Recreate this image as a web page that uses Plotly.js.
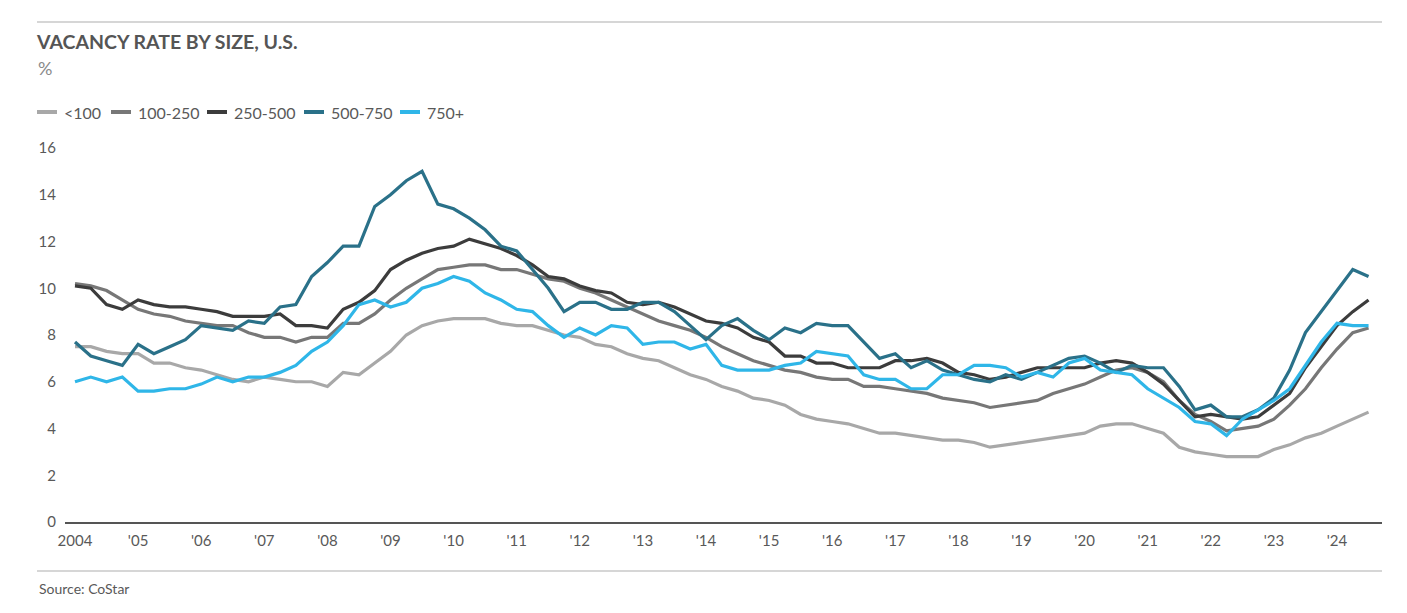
<!DOCTYPE html>
<html>
<head>
<meta charset="utf-8">
<script src="https://cdn.plot.ly/plotly-3.0.1.min.js"></script>
<style>
  html, body { margin: 0; padding: 0; background: #ffffff; }
  #chart { width: 1407px; height: 613px; }
</style>
</head>
<body>
<div id="chart"></div>
<script>
// Quarterly periods 2004 Q1 .. 2024 Q3
const startYear = 2004;
const quartersCount = 83;

const seriesNames = ["<100", "100-250", "250-500", "500-750", "750+"];

const under100 = [7.5,7.5,7.3,7.2, 7.2,6.8,6.8,6.6, 6.5,6.3,6.1,6.0, 6.2,6.1,6.0,6.0, 5.8,6.4,6.3,6.8,
  7.3,8.0,8.4,8.6, 8.7,8.7,8.7,8.5, 8.4,8.4,8.2,8.0, 7.9,7.6,7.5,7.2, 7.0,6.9,6.6,6.3,
  6.1,5.8,5.6,5.3, 5.2,5.0,4.6,4.4, 4.3,4.2,4.0,3.8, 3.8,3.7,3.6,3.5, 3.5,3.4,3.2,3.3,
  3.4,3.5,3.6,3.7, 3.8,4.1,4.2,4.2, 4.0,3.8,3.2,3.0, 2.9,2.8,2.8,2.8, 3.1,3.3,3.6,3.8,
  4.1,4.4,4.7];

const s100to250 = [10.2,10.1,9.9,9.5, 9.1,8.9,8.8,8.6, 8.5,8.4,8.4,8.1, 7.9,7.9,7.7,7.9, 7.9,8.5,8.5,8.9,
  9.5,10.0,10.4,10.8, 10.9,11.0,11.0,10.8, 10.8,10.6,10.4,10.3, 10.0,9.8,9.5,9.2, 8.9,8.6,8.4,8.2,
  7.9,7.5,7.2,6.9, 6.7,6.5,6.4,6.2, 6.1,6.1,5.8,5.8, 5.7,5.6,5.5,5.3, 5.2,5.1,4.9,5.0,
  5.1,5.2,5.5,5.7, 5.9,6.2,6.5,6.6, 6.4,6.0,5.2,4.6, 4.3,3.9,4.0,4.1, 4.4,5.0,5.7,6.6,
  7.4,8.1,8.3];

const s250to500 = [10.1,10.0,9.3,9.1, 9.5,9.3,9.2,9.2, 9.1,9.0,8.8,8.8, 8.8,8.9,8.4,8.4, 8.3,9.1,9.4,9.9,
  10.8,11.2,11.5,11.7, 11.8,12.1,11.9,11.7, 11.4,11.0,10.5,10.4, 10.1,9.9,9.8,9.4, 9.3,9.4,9.2,8.9,
  8.6,8.5,8.3,7.9, 7.7,7.1,7.1,6.8, 6.8,6.6,6.6,6.6, 6.9,6.9,7.0,6.8, 6.4,6.3,6.1,6.2,
  6.4,6.6,6.6,6.6, 6.6,6.8,6.9,6.8, 6.4,5.9,5.2,4.5, 4.6,4.5,4.4,4.5, 5.0,5.5,6.6,7.5,
  8.4,9.0,9.5];

const s500to750 = [7.7,7.1,6.9,6.7, 7.6,7.2,7.5,7.8, 8.4,8.3,8.2,8.6, 8.5,9.2,9.3,10.5, 11.1,11.8,11.8,13.5,
  14.0,14.6,15.0,13.6, 13.4,13.0,12.5,11.8, 11.6,10.8,10.0,9.0, 9.4,9.4,9.1,9.1, 9.4,9.4,9.0,8.4,
  7.8,8.4,8.7,8.2, 7.8,8.3,8.1,8.5, 8.4,8.4,7.7,7.0, 7.2,6.6,6.9,6.5, 6.3,6.1,6.0,6.3,
  6.1,6.4,6.7,7.0, 7.1,6.8,6.4,6.7, 6.6,6.6,5.8,4.8, 5.0,4.5,4.5,4.8, 5.3,6.5,8.1,9.0,
  9.9,10.8,10.5];

const s750plus = [6.0,6.2,6.0,6.2, 5.6,5.6,5.7,5.7, 5.9,6.2,6.0,6.2, 6.2,6.4,6.7,7.3, 7.7,8.4,9.3,9.5,
  9.2,9.4,10.0,10.2, 10.5,10.3,9.8,9.5, 9.1,9.0,8.4,7.9, 8.3,8.0,8.4,8.3, 7.6,7.7,7.7,7.4,
  7.6,6.7,6.5,6.5, 6.5,6.7,6.8,7.3, 7.2,7.1,6.3,6.1, 6.1,5.7,5.7,6.3, 6.3,6.7,6.7,6.6,
  6.2,6.4,6.2,6.8, 7.0,6.5,6.4,6.3, 5.7,5.3,4.9,4.3, 4.2,3.7,4.4,4.8, 5.2,5.7,6.7,7.7,
  8.5,8.4,8.4];

const tickYears = [2004,2005,2006,2007,2008,2009,2010,2011,2012,2013,2014,2015,2016,2017,2018,2019,2020,2021,2022,2023,2024];
const tickLabels = ["2004","'05","'06","'07","'08","'09","'10","'11","'12","'13","'14","'15","'16","'17","'18","'19","'20","'21","'22","'23","'24"];
const yTicks = [0,2,4,6,8,10,12,14,16];

const quarters = [];
for (let i = 0; i < quartersCount; i++) quarters.push(startYear + i / 4);

const colors = ["#a8a8a8", "#777777", "#3c3c3c", "#2a7189", "#2fb6e8"];
const allSeries = [under100, s100to250, s250to500, s500to750, s750plus];

const traces = allSeries.map((vals, k) => ({
  type: "scatter",
  mode: "lines",
  name: seriesNames[k],
  x: quarters,
  y: vals,
  line: { color: colors[k], width: 3.2 },
  hoverinfo: "skip"
}));

const FONT = "Lato, 'Open Sans', sans-serif";
const TXT = "#595959";

// plot area geometry in pixels (for placing header/footer items in paper coords)
const PL = 65, PR = 1382, PT = 148, PB = 522;
const px = (x) => (x - PL) / (PR - PL);
const py = (y) => (PB - y) / (PB - PT);

// custom legend (short line samples like the reference)
const legendSampleX = [37, 111, 207, 304, 400];
const legendY = 112;
const legendShapes = seriesNames.map((n, k) => ({
  type: "line", xref: "paper", yref: "paper",
  x0: px(legendSampleX[k]), x1: px(legendSampleX[k] + 20),
  y0: py(legendY), y1: py(legendY),
  line: { color: colors[k], width: 4 }
}));
const legendTexts = seriesNames.map((n, k) => ({
  text: n.replace("<", "&lt;"), xref: "paper", yref: "paper",
  x: px(legendSampleX[k] + 25), xanchor: "left",
  y: py(legendY), yanchor: "middle",
  showarrow: false,
  font: { family: FONT, size: 16, color: TXT }
}));

const layout = {
  width: 1407,
  height: 613,
  margin: { l: PL, r: 1407 - PR, t: PT, b: 613 - PB, pad: 0 },
  paper_bgcolor: "#ffffff",
  plot_bgcolor: "#ffffff",
  font: { family: FONT, color: TXT, size: 15 },
  showlegend: false,
  title: {
    text: "<b>VACANCY RATE BY SIZE, U.S.</b>",
    font: { family: FONT, size: 19.5, color: "#555555" },
    xref: "container", yref: "container",
    x: 37 / 1407, xanchor: "left",
    y: 1 - 42 / 613, yanchor: "middle"
  },
  xaxis: {
    type: "linear",
    range: [2004 - 10 / 63.1, 2004 + (1382 - 75) / 63.1],
    tickmode: "array",
    tickvals: tickYears,
    ticktext: tickLabels,
    ticks: "",
    showgrid: false,
    zeroline: false,
    showline: true,
    linecolor: "#555555",
    linewidth: 1.5,
    tickfont: { family: FONT, size: 15, color: TXT },
    ticklabelstandoff: 4,
    fixedrange: true
  },
  yaxis: {
    range: [0, 16],
    tickmode: "array",
    tickvals: yTicks,
    ticks: "",
    showgrid: false,
    zeroline: false,
    showline: false,
    tickfont: { family: FONT, size: 15, color: TXT },
    ticklabelstandoff: 8,
    fixedrange: true
  },
  shapes: [
    { type: "line", xref: "paper", yref: "paper",
      x0: px(37), x1: 1, y0: py(22), y1: py(22),
      line: { color: "#c8c8c8", width: 1.5 } },
    { type: "line", xref: "paper", yref: "paper",
      x0: px(37), x1: 1, y0: py(571), y1: py(571),
      line: { color: "#c8c8c8", width: 1.5 } }
  ].concat(legendShapes),
  annotations: [
    { text: "%", xref: "paper", yref: "paper",
      x: px(36), xanchor: "left", y: py(68), yanchor: "middle",
      showarrow: false, font: { family: FONT, size: 18, color: "#8a8a8a" } },
    { text: "Source: CoStar", xref: "paper", yref: "paper",
      x: px(37), xanchor: "left", y: py(588), yanchor: "middle",
      showarrow: false, font: { family: FONT, size: 14, color: TXT } }
  ].concat(legendTexts)
};

Plotly.newPlot("chart", traces, layout, { displayModeBar: false, staticPlot: true });
</script>
</body>
</html>
